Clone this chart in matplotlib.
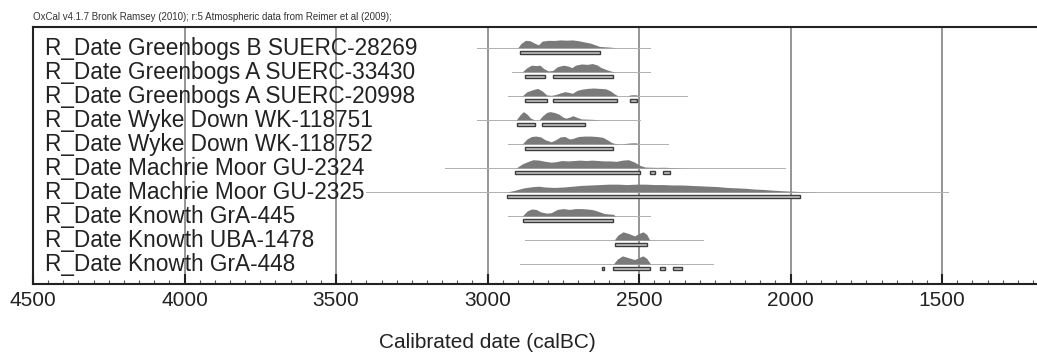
import matplotlib
matplotlib.use("Agg")
import matplotlib.pyplot as plt
from matplotlib.patches import Rectangle
from matplotlib.ticker import MultipleLocator

plt.rcParams['font.family'] = ['Liberation Sans', 'DejaVu Sans']

labels = ["R_Date Greenbogs B SUERC-28269",
          "R_Date Greenbogs A SUERC-33430",
          "R_Date Greenbogs A SUERC-20998",
          "R_Date Wyke Down WK-118751",
          "R_Date Wyke Down WK-118752",
          "R_Date Machrie Moor GU-2324",
          "R_Date Machrie Moor GU-2325",
          "R_Date Knowth GrA-445",
          "R_Date Knowth UBA-1478",
          "R_Date Knowth GrA-448"]

# extent of the thin line under each distribution (calBC)
line_start = [3035, 2920, 2932, 3036, 2932, 3140, 3400, 2932, 2876, 2893]
line_end = [2464, 2464, 2342, 2497, 2405, 2018, 1480, 2464, 2289, 2256]

# probability distributions (date calBC, relative probability)
d1 = [2900, 2890, 2875, 2860, 2845, 2832, 2820, 2800, 2780, 2760, 2740, 2720, 2700, 2680, 2660, 2645, 2630, 2610, 2590, 2580]
p1 = [0, 0.5, 0.9, 0.85, 0.55, 0.35, 0.8, 0.9, 0.88, 0.95, 0.92, 0.95, 0.85, 0.7, 0.55, 0.35, 0.15, 0.1, 0.05, 0]
d2 = [2885, 2870, 2855, 2840, 2827, 2815, 2800, 2785, 2770, 2750, 2735, 2722, 2710, 2690, 2670, 2655, 2640, 2625, 2607, 2595, 2583]
p2 = [0, 0.5, 0.8, 0.75, 0.8, 0.4, 0.1, 0.15, 0.6, 0.8, 0.7, 0.5, 0.8, 0.95, 0.9, 1.0, 0.85, 0.5, 0.25, 0.1, 0]
d3 = [2885, 2870, 2850, 2835, 2820, 2805, 2790, 2775, 2760, 2745, 2730, 2720, 2705, 2690, 2670, 2650, 2630, 2610, 2595, 2580, 2570, 2540, 2525, 2510, 2500]
p3 = [0, 0.5, 0.75, 0.9, 0.6, 0.1, 0.05, 0.15, 0.35, 0.5, 0.4, 0.3, 0.65, 0.8, 0.9, 0.95, 0.9, 0.85, 0.6, 0.2, 0, 0, 0.12, 0.12, 0]
d4 = [2905, 2893, 2882, 2870, 2858, 2845, 2830, 2818, 2805, 2794, 2780, 2765, 2750, 2740, 2728, 2718, 2705, 2690, 2670, 2650, 2630]
p4 = [0, 0.6, 1.0, 0.7, 0.2, 0, 0, 0.5, 0.9, 1.0, 0.9, 0.7, 0.3, 0.2, 0.35, 0.5, 0.3, 0.1, 0.08, 0.05, 0]
d5 = [2885, 2870, 2855, 2840, 2825, 2810, 2790, 2775, 2760, 2745, 2730, 2720, 2700, 2680, 2660, 2640, 2620, 2605, 2590, 2580, 2560, 2525, 2510, 2500]
p5 = [0, 0.6, 0.9, 0.95, 0.85, 0.5, 0.25, 0.5, 0.85, 0.9, 0.6, 0.65, 0.9, 0.95, 0.95, 0.9, 0.8, 0.5, 0.15, 0.05, 0, 0.12, 0.12, 0]
d6 = [2905, 2885, 2865, 2850, 2830, 2810, 2790, 2775, 2755, 2735, 2715, 2695, 2675, 2655, 2635, 2615, 2595, 2575, 2555, 2535, 2515, 2497, 2480, 2460, 2440, 2420, 2400, 2370, 2330]
p6 = [0, 0.5, 0.8, 1.0, 0.95, 0.8, 0.7, 0.75, 0.9, 0.85, 0.9, 0.95, 0.9, 0.95, 0.9, 0.85, 0.85, 0.8, 0.95, 1.0, 0.7, 0.3, 0.1, 0.08, 0.06, 0.08, 0.05, 0.02, 0]
d7 = [2935, 2910, 2880, 2850, 2830, 2810, 2780, 2750, 2720, 2690, 2660, 2630, 2600, 2570, 2540, 2510, 2480, 2450, 2420, 2390, 2360, 2330, 2300, 2270, 2240, 2210, 2180, 2150, 2120, 2090, 2060, 2030, 2000, 1970, 1940, 1900]
p7 = [0, 0.2, 0.5, 0.65, 0.7, 0.6, 0.55, 0.6, 0.7, 0.8, 0.85, 0.9, 0.95, 0.95, 0.9, 0.95, 0.95, 0.9, 0.9, 0.85, 0.85, 0.8, 0.75, 0.7, 0.65, 0.55, 0.5, 0.45, 0.35, 0.3, 0.22, 0.15, 0.1, 0.05, 0.02, 0]
d8 = [2885, 2870, 2855, 2840, 2825, 2805, 2790, 2770, 2750, 2730, 2710, 2690, 2670, 2650, 2630, 2615, 2600, 2585, 2578]
p8 = [0, 0.6, 0.85, 0.8, 0.5, 0.35, 0.4, 0.8, 0.9, 0.8, 0.9, 0.9, 0.85, 0.75, 0.5, 0.3, 0.25, 0.2, 0]
d9 = [2582, 2570, 2553, 2535, 2515, 2500, 2487, 2475, 2465]
p9 = [0, 0.6, 1.0, 0.8, 0.5, 0.8, 1.0, 0.7, 0]
d10 = [2585, 2572, 2555, 2537, 2515, 2500, 2487, 2475, 2462]
p10 = [0, 0.6, 1.0, 0.8, 0.55, 0.8, 1.0, 0.7, 0]

dist_dates = [d1, d2, d3, d4, d5, d6, d7, d8, d9, d10]
dist_probs = [p1, p2, p3, p4, p5, p6, p7, p8, p9, p10]

# 95.4% ranges
ranges = [[(2893, 2629)],
          [(2876, 2810), (2783, 2585)],
          [(2876, 2805), (2785, 2574), (2530, 2508)],
          [(2904, 2843), (2821, 2678)],
          [(2876, 2586)],
          [(2909, 2497), (2464, 2447), (2421, 2398)],
          [(2935, 1970)],
          [(2883, 2586)],
          [(2579, 2475)],
          [(2623, 2616), (2587, 2464), (2431, 2414), (2388, 2359)]]

fig = plt.figure(figsize=(10.37, 3.55), dpi=100)
ax = fig.add_axes([33 / 1037, 71 / 355, 1004 / 1037, 257 / 355])

n = len(labels)
for i in range(n):
    y = n - i
    ax.plot([line_start[i], line_end[i]], [y, y], color="#b0b0b0", lw=0.7, zorder=2)
    ax.fill_between(dist_dates[i], y, [y + 0.34 * v for v in dist_probs[i]],
                    color="#7a7a7a", lw=0, zorder=3)
    for a, b in ranges[i]:
        ax.add_patch(Rectangle((a, y - 0.25), b - a, 0.12, facecolor="#c4c4c4",
                               edgecolor="#3c3c3c", lw=1.0, zorder=3))
    ax.text(4462, y - 0.3, labels[i], fontsize=16.3, va="baseline", ha="left",
            color="#222222", zorder=4)

for g in [4000, 3500, 3000, 2500, 2000, 1500]:
    ax.axvline(g, color="#8c8c8c", lw=1.3, zorder=1)

ax.set_xlim(4500, 1187)
ax.set_ylim(0.17, 10.86)
ax.set_yticks([])
ax.xaxis.set_major_locator(MultipleLocator(500))
ax.xaxis.set_minor_locator(MultipleLocator(50))
ax.tick_params(axis="x", which="major", direction="in", length=7, width=1.5,
               labelsize=15, pad=5, colors="#222222")
ax.tick_params(axis="x", which="minor", direction="in", length=3, width=0.8, colors="#555555")
for s in ["left", "top", "bottom"]:
    ax.spines[s].set_linewidth(1.5)
    ax.spines[s].set_color("#222222")
ax.spines["right"].set_visible(False)

fig.text(487 / 1037, 12 / 355, "Calibrated date (calBC)", fontsize=15,
         ha="center", va="center", color="#222222")
fig.text(33 / 1037, 335 / 355,
         "OxCal v4.1.7 Bronk Ramsey (2010); r:5 Atmospheric data from Reimer et al (2009);",
         fontsize=7, ha="left", va="baseline", color="#333333")

plt.savefig("out.png", dpi=100)
plt.close()
